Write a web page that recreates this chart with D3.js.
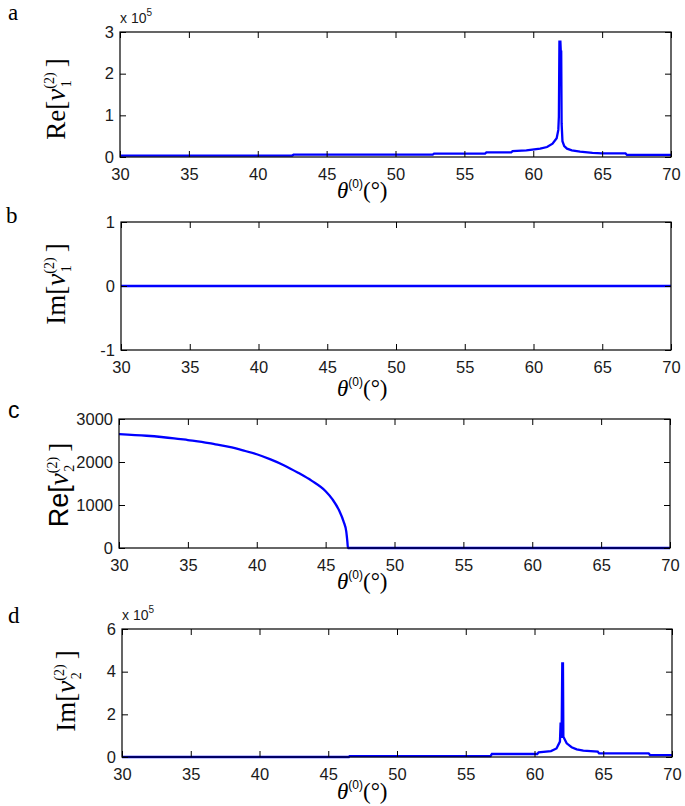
<!DOCTYPE html>
<html>
<head>
<meta charset="utf-8">
<script src="https://cdn.jsdelivr.net/npm/d3@7"></script>
<style>
  html, body { margin: 0; padding: 0; background: #fff; }
  svg { display: block; }
</style>
</head>
<body>
<svg id="chart" width="685" height="806"></svg>
<script>
// ---------------- DATA ----------------
const thetaDomain = [30, 70];
const thetaTicks = [30, 35, 40, 45, 50, 55, 60, 65, 70];

// Panel a: Re[v1^(2)]  (x 10^5)
const reV1Theta  = [30, 42.5, 42.6, 52.7, 52.8, 56.5, 56.6, 58.4, 58.5, 59.5, 60.5, 61.0, 61.4, 61.7, 61.82, 61.86, 61.9, 61.97, 62.0, 62.03, 62.06, 62.12, 62.25, 62.45, 62.8, 63.4, 64.3, 65.0, 66.7, 66.8, 70];
const reV1Values = [0.035, 0.035, 0.055, 0.055, 0.08, 0.08, 0.11, 0.11, 0.14, 0.16, 0.20, 0.24, 0.32, 0.45, 0.65, 0.97, 2.77, 2.77, 2.53, 2.53, 0.8, 0.38, 0.26, 0.2, 0.16, 0.13, 0.1, 0.085, 0.085, 0.05, 0.05];

// Panel b: Im[v1^(2)]
const imV1Theta  = [30, 70];
const imV1Values = [0, 0];

// Panel c: Re[v2^(2)]
const reV2Theta  = [30, 32, 34, 35, 36, 37, 38, 39, 40, 41, 42, 43, 44, 45, 45.5, 46, 46.3, 46.5, 46.58, 46.62, 70];
const reV2Values = [2650, 2610, 2550, 2510, 2470, 2410, 2350, 2270, 2180, 2060, 1920, 1750, 1560, 1320, 1130, 860, 620, 380, 140, 0, 0];

// Panel d: Im[v2^(2)]  (x 10^5)
const imV2Theta  = [30, 46.5, 46.55, 56.8, 56.9, 60.2, 60.3, 61.2, 61.6, 61.85, 61.9, 61.94, 61.97, 62.02, 62.07, 62.1, 62.34, 62.7, 63.07, 63.55, 64.6, 64.7, 68.3, 68.4, 70];
const imV2Values = [0, 0, 0.04, 0.04, 0.14, 0.14, 0.22, 0.28, 0.4, 0.72, 1.61, 1.0, 0.9, 4.39, 4.39, 0.95, 0.64, 0.46, 0.36, 0.3, 0.25, 0.17, 0.17, 0.09, 0.09];

const yTicksA = [0, 1, 2, 3];
const yTicksB = [-1, 0, 1];
const yTicksC = [0, 1000, 2000, 3000];
const yTicksD = [0, 2, 4, 6];

// ---------------- LAYOUT ----------------
const panels = [
  { letter: "a", letterFont: "Liberation Serif", letterX: 8, letterY: 20,
    box: { l: 120, r: 671, t: 32, b: 157 }, yDomain: [0, 3], yTicks: yTicksA,
    xs: reV1Theta, ys: reV1Values, exp: true, smooth: false,
    yl: { pre: "Re[", sub: "1", font: "Liberation Serif", x: 65, y: 99 },
    xlBase: 198 },
  { letter: "b", letterFont: "Liberation Serif", letterX: 6, letterY: 223,
    box: { l: 121, r: 671, t: 222, b: 350 }, yDomain: [-1, 1], yTicks: yTicksB,
    xs: imV1Theta, ys: imV1Values, exp: false, smooth: false,
    yl: { pre: "Im[", sub: "1", font: "Liberation Serif", x: 65, y: 284 },
    xlBase: 396 },
  { letter: "c", letterFont: "Liberation Sans", letterX: 8, letterY: 418,
    box: { l: 119, r: 670, t: 419, b: 548 }, yDomain: [0, 3000], yTicks: yTicksC,
    xs: reV2Theta, ys: reV2Values, exp: false, smooth: true,
    yl: { pre: "Re[", sub: "2", font: "Liberation Sans", x: 68, y: 485 },
    xlBase: 589 },
  { letter: "d", letterFont: "Liberation Serif", letterX: 8, letterY: 623,
    box: { l: 122, r: 672, t: 629, b: 757 }, yDomain: [0, 6], yTicks: yTicksD,
    xs: imV2Theta, ys: imV2Values, exp: true, smooth: false,
    yl: { pre: "Im[", sub: "2", font: "Liberation Serif", x: 75, y: 691 },
    xlBase: 799 }
];

const svg = d3.select("#chart");
const tickLen = 6;
const tickFont = "Liberation Sans, Arial, sans-serif";
const fmt = d => String(d);  // plain hyphen minus like the reference

panels.forEach(p => {
  const { l, r, t, b } = p.box;
  const x = d3.scaleLinear().domain(thetaDomain).range([l, r]);
  const y = d3.scaleLinear().domain(p.yDomain).range([b, t]);
  const g = svg.append("g");

  // data line
  const pts = p.xs.map((v, i) => [v, p.ys[i]]);
  const line = d3.line().x(d => x(d[0])).y(d => y(d[1]));
  if (p.smooth) line.curve(d3.curveMonotoneX);
  g.append("path")
    .datum(pts)
    .attr("fill", "none")
    .attr("stroke", "#0000ff")
    .attr("stroke-width", 2.3)
    .attr("stroke-linejoin", "miter")
    .attr("d", line);

  // bottom axis (ticks inward)
  const bottom = g.append("g").attr("transform", `translate(0,${b})`)
    .call(d3.axisBottom(x).tickValues(thetaTicks).tickSizeInner(-tickLen).tickSizeOuter(0).tickPadding(11).tickFormat(fmt));
  bottom.select(".domain").remove();
  bottom.selectAll("text").attr("font-family", tickFont).attr("font-size", 16.5).attr("fill", "#1a1a1a");
  bottom.selectAll("line").attr("stroke", "#000");

  // top mirrored ticks
  const top = g.append("g").attr("transform", `translate(0,${t})`)
    .call(d3.axisTop(x).tickValues(thetaTicks).tickSizeInner(-tickLen).tickSizeOuter(0).tickFormat(""));
  top.select(".domain").remove();
  top.selectAll("line").attr("stroke", "#000");

  // left axis
  const left = g.append("g").attr("transform", `translate(${l},0)`)
    .call(d3.axisLeft(y).tickValues(p.yTicks).tickSizeInner(-tickLen).tickSizeOuter(0).tickPadding(6)
      .tickFormat(fmt));
  left.select(".domain").remove();
  left.selectAll("text").attr("font-family", tickFont).attr("font-size", 16.5).attr("fill", "#1a1a1a");
  left.selectAll("line").attr("stroke", "#000");

  // right mirrored ticks
  const right = g.append("g").attr("transform", `translate(${r},0)`)
    .call(d3.axisRight(y).tickValues(p.yTicks).tickSizeInner(-tickLen).tickSizeOuter(0).tickFormat(""));
  right.select(".domain").remove();
  right.selectAll("line").attr("stroke", "#000");

  // box
  g.append("rect")
    .attr("x", l).attr("y", t).attr("width", r - l).attr("height", b - t)
    .attr("fill", "none").attr("stroke", "#000").attr("stroke-width", 1.2);

  // exponent label
  if (p.exp) {
    const e = g.append("text").attr("x", l).attr("y", t - 9)
      .attr("font-family", tickFont).attr("font-size", 14).attr("fill", "#1a1a1a");
    e.append("tspan").text("x 10");
    e.append("tspan").attr("font-size", 10).attr("dy", -7).text("5");
  }

  // panel letter
  svg.append("text").attr("x", p.letterX).attr("y", p.letterY)
    .attr("font-family", p.letterFont).attr("font-size", 23).attr("fill", "#000")
    .text(p.letter);

  // y label (rotated)
  const yl = svg.append("text")
    .attr("transform", `translate(${p.yl.x},${p.yl.y}) rotate(-90)`)
    .attr("text-anchor", "middle")
    .attr("font-family", "Liberation Serif, Times New Roman, serif")
    .attr("font-size", 27).attr("fill", "#000");
  yl.append("tspan").attr("font-family", p.yl.font).text(p.yl.pre);
  yl.append("tspan").attr("font-style", "italic").text("v");
  yl.append("tspan").attr("font-size", 14).attr("dy", -11).text("(2)");
  yl.append("tspan").attr("font-size", 14).attr("dx", -15).attr("dy", 17).text(p.yl.sub);
  yl.append("tspan").attr("dx", 13).attr("dy", -6).text("]");

  // x label
  const xl = svg.append("text").attr("x", 337).attr("y", p.xlBase)
    .attr("font-family", "Liberation Serif, Times New Roman, serif")
    .attr("font-size", 23).attr("fill", "#000");
  xl.append("tspan").attr("font-style", "italic").text("θ");
  xl.append("tspan").attr("font-family", tickFont).attr("font-size", 12).attr("dy", -10).text("(0)");
  xl.append("tspan").attr("dy", 10).text("(°)");
});
</script>
</body>
</html>
